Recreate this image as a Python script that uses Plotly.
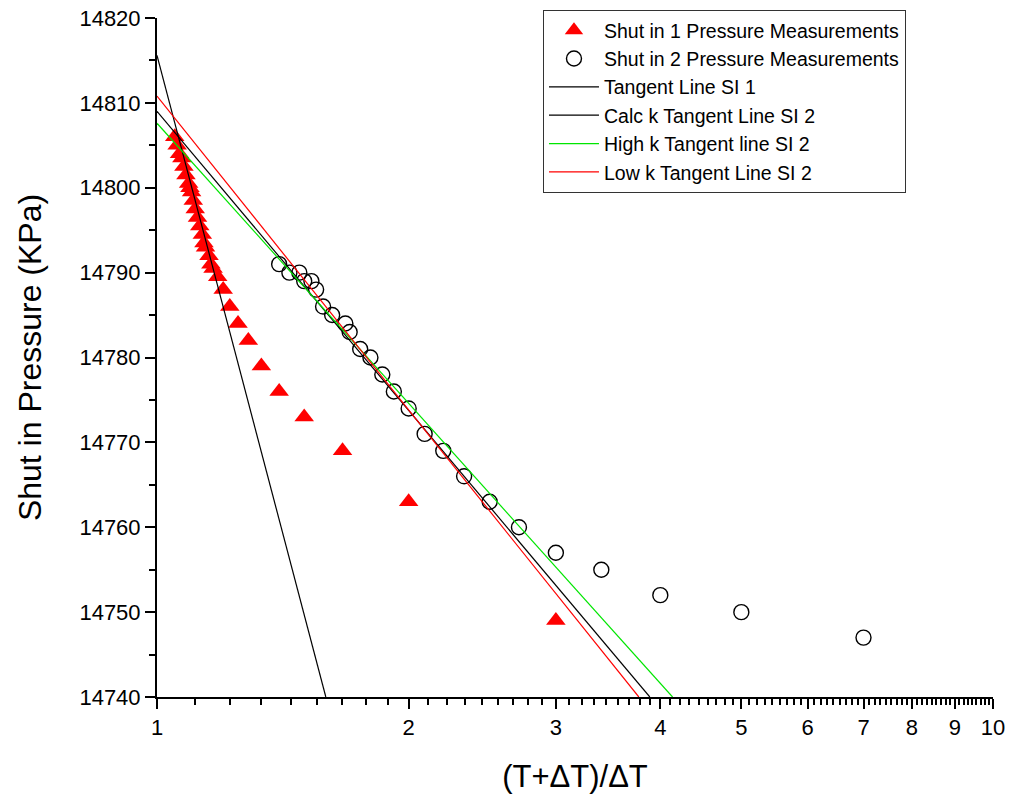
import plotly.graph_objects as go

# ---- data ----
si1_x = [1.05, 1.057, 1.064, 1.071, 1.077, 1.083, 1.091, 1.095, 1.1, 1.105, 1.111, 1.118,
         1.125, 1.133, 1.138, 1.143, 1.154, 1.16, 1.167, 1.182, 1.2, 1.222, 1.25, 1.286,
         1.333, 1.4, 1.5, 1.667, 2.0, 3.0]
si1_p = [14806, 14805, 14804, 14803.5, 14802.5, 14801.5, 14800.5, 14800, 14799.5, 14798.5,
         14797.5, 14796.5, 14795.5, 14794.5, 14793.5, 14793, 14792, 14791, 14790.5, 14789.5,
         14788, 14786, 14784, 14782, 14779, 14776, 14773, 14769, 14763, 14749]

si2_x = [1.40, 1.44, 1.48, 1.50, 1.53, 1.55, 1.58, 1.62, 1.68, 1.70, 1.75, 1.80, 1.86, 1.92,
         2.0, 2.09, 2.2, 2.33, 2.5, 2.71, 3.0, 3.4, 4.0, 5.0, 7.0]
si2_p = [14791, 14790, 14790, 14789, 14789, 14788, 14786, 14785, 14784, 14783, 14781, 14780,
         14778, 14776, 14774, 14771, 14769, 14766, 14763, 14760, 14757, 14755, 14752, 14750, 14747]

tan1_x = [1.0, 1.592]
tan1_p = [14815.6, 14740]
calc_x = [1.0, 3.886]
calc_p = [14809.0, 14740]
high_x = [1.0, 4.137]
high_p = [14807.6, 14740]
low_x = [1.0, 3.77]
low_p = [14810.8, 14740]

x_ticks = [1, 2, 3, 4, 5, 6, 7, 8, 9, 10]
x_minor = [i + k / 9 for i in range(1, 10) for k in range(1, 9)]
y_ticks = [14740, 14750, 14760, 14770, 14780, 14790, 14800, 14810, 14820]

FONT = "Liberation Sans, Arial, sans-serif"

fig = go.Figure()
fig.add_trace(go.Scatter(x=si1_x, y=si1_p, mode="markers", name="Shut in 1 Pressure Measurements",
                         marker=dict(symbol="triangle-up", size=17, color="#ff0000", line=dict(width=0))))
fig.add_trace(go.Scatter(x=si2_x, y=si2_p, mode="markers", name="Shut in 2 Pressure Measurements",
                         marker=dict(symbol="circle-open", size=15, color="#000000", line=dict(width=1.4))))
fig.add_trace(go.Scatter(x=tan1_x, y=tan1_p, mode="lines", name="Tangent Line SI 1",
                         line=dict(color="#000000", width=1.2)))
fig.add_trace(go.Scatter(x=calc_x, y=calc_p, mode="lines", name="Calc k Tangent Line SI 2",
                         line=dict(color="#000000", width=1.2)))
fig.add_trace(go.Scatter(x=high_x, y=high_p, mode="lines", name="High k Tangent line SI 2",
                         line=dict(color="#00e600", width=1.2)))
fig.add_trace(go.Scatter(x=low_x, y=low_p, mode="lines", name="Low k Tangent Line SI 2",
                         line=dict(color="#ff0000", width=1.2)))

fig.update_layout(
    width=1010, height=804,
    margin=dict(l=157, r=17, t=18, b=107, autoexpand=False),
    paper_bgcolor="white", plot_bgcolor="white",
    font=dict(family=FONT, color="#000000"),
    showlegend=True,
    legend=dict(x=0.4617, y=1.0118, xanchor="left", yanchor="top",
                bordercolor="#333333", borderwidth=1, bgcolor="white",
                font=dict(size=19.5, family=FONT), itemwidth=50, tracegroupgap=0),
)

fig.update_xaxes(
    type="log", range=[0, 1], automargin=False,
    tickmode="array", tickvals=x_ticks, ticktext=[str(v) for v in x_ticks],
    ticks="outside", ticklen=10, tickwidth=2, tickcolor="#000000",
    showline=True, linecolor="#000000", linewidth=2,
    showgrid=False, zeroline=False,
    tickfont=dict(size=22, family=FONT),
    title=dict(text="(T+ΔT)/ΔT", font=dict(size=31, family=FONT), standoff=26),
    minor=dict(tickmode="array", tickvals=x_minor, ticks="outside", ticklen=6,
               tickwidth=1.5, tickcolor="#000000", showgrid=False),
)
fig.update_yaxes(
    range=[14740, 14820], automargin=False,
    tickmode="array", tickvals=y_ticks, ticktext=[str(v) for v in y_ticks],
    ticks="outside", ticklen=10, tickwidth=2, tickcolor="#000000",
    showline=True, linecolor="#000000", linewidth=2,
    showgrid=False, zeroline=False,
    tickfont=dict(size=22, family=FONT),
    title=dict(text="Shut in Pressure (KPa)", font=dict(size=32, family=FONT), standoff=28),
    minor=dict(dtick=5, tick0=14740, ticks="outside", ticklen=6, tickwidth=1.5,
               tickcolor="#000000", showgrid=False),
)

fig.write_html("out.html")
